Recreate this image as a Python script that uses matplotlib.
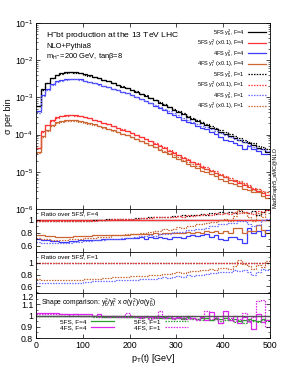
# H-bt pT(t) distribution: spectra plus ratio and shape panels
import numpy as np
import matplotlib
matplotlib.use('Agg')
import matplotlib.pyplot as plt
from matplotlib.ticker import MultipleLocator, LogLocator, NullFormatter

plt.rcParams['font.family'] = ['Liberation Sans', 'DejaVu Sans']
plt.rcParams['mathtext.fontset'] = 'custom'
plt.rcParams['mathtext.rm'] = 'Liberation Sans'
plt.rcParams['mathtext.it'] = 'Liberation Sans:italic'
plt.rcParams['mathtext.default'] = 'regular'

# bins: 10 GeV from 0 to 500
pt_edges = np.arange(0, 510, 10)

# 5FS y_b^2, F=4 (sigma per bin)
sig_5fs_yb_F4 = [6.0e-4, 1.66e-3, 2.51e-3, 3.39e-3, 4.07e-3, 4.47e-3, 4.68e-3, 4.79e-3, 4.68e-3, 4.47e-3,
                 4.17e-3, 3.89e-3, 3.55e-3, 3.24e-3, 2.95e-3, 2.69e-3, 2.40e-3, 2.19e-3, 1.95e-3, 1.78e-3,
                 1.58e-3, 1.41e-3, 1.23e-3, 1.10e-3, 9.5e-4, 8.3e-4, 7.2e-4, 6.2e-4, 5.4e-4, 4.6e-4,
                 4.0e-4, 3.5e-4, 3.0e-4, 2.6e-4, 2.3e-4, 2.0e-4, 1.78e-4, 1.55e-4, 1.38e-4, 1.20e-4,
                 1.05e-4, 9.2e-5, 8.1e-5, 7.3e-5, 6.5e-5, 5.8e-5, 5.1e-5, 4.5e-5, 4.0e-5, 3.5e-5]

# 5FS y_t^2 (x0.1), F=4
sig_5fs_yt_F4 = [4.4e-5, 1.22e-4, 1.80e-4, 2.42e-4, 2.90e-4, 3.18e-4, 3.32e-4, 3.38e-4, 3.30e-4, 3.15e-4,
                 2.94e-4, 2.74e-4, 2.50e-4, 2.28e-4, 2.07e-4, 1.89e-4, 1.68e-4, 1.53e-4, 1.36e-4, 1.24e-4,
                 1.10e-4, 9.8e-5, 8.6e-5, 7.6e-5, 6.6e-5, 5.7e-5, 5.0e-5, 4.3e-5, 3.7e-5, 3.2e-5,
                 2.75e-5, 2.4e-5, 2.06e-5, 1.78e-5, 1.58e-5, 1.37e-5, 1.22e-5, 1.06e-5, 9.4e-6, 8.2e-6,
                 7.1e-6, 6.2e-6, 5.5e-6, 4.9e-6, 4.35e-6, 3.9e-6, 3.4e-6, 3.05e-6, 2.7e-6, 2.4e-6]

# F=1 / F=4 for the 5FS curves
r_5fs_yb_F1 = [0.99, 0.98, 0.98, 0.98, 0.98, 0.98, 0.98, 0.98, 0.99, 0.99,
               0.99, 0.99, 1.00, 1.00, 1.00, 1.01, 1.01, 1.01, 1.02, 1.02,
               1.02, 1.03, 1.03, 1.03, 1.04, 1.04, 1.05, 1.05, 1.05, 1.06,
               1.06, 1.07, 1.06, 1.08, 1.07, 1.09, 1.08, 1.10, 1.09, 1.12,
               1.10, 1.13, 1.10, 1.14, 1.12, 1.11, 1.14, 1.08, 1.13, 1.15]
r_5fs_yt_F1 = [0.99, 0.99, 0.98, 0.98, 0.98, 0.98, 0.98, 0.98, 0.98, 0.99,
               0.99, 0.99, 0.99, 1.00, 1.00, 1.00, 1.01, 1.01, 1.01, 1.02,
               1.02, 1.02, 1.03, 1.03, 1.03, 1.04, 1.04, 1.05, 1.04, 1.05,
               1.06, 1.05, 1.07, 1.06, 1.08, 1.07, 1.09, 1.08, 1.10, 1.09,
               1.11, 1.09, 1.12, 1.10, 1.13, 1.11, 1.09, 1.14, 1.12, 1.16]

# 4FS / 5FS at F=4
r_4fs_yb_F4 = [0.70, 0.69, 0.68, 0.67, 0.67, 0.66, 0.66, 0.67, 0.67, 0.68,
               0.68, 0.68, 0.69, 0.69, 0.70, 0.70, 0.70, 0.71, 0.71, 0.72,
               0.72, 0.72, 0.73, 0.71, 0.73, 0.72, 0.74, 0.72, 0.71, 0.73,
               0.74, 0.72, 0.75, 0.77, 0.75, 0.76, 0.78, 0.74, 0.77, 0.70,
               0.69, 0.74, 0.73, 0.71, 0.64, 0.87, 0.80, 0.82, 0.75, 0.85]
r_4fs_yt_F4 = [0.77, 0.76, 0.75, 0.75, 0.74, 0.74, 0.74, 0.74, 0.75, 0.75,
               0.75, 0.75, 0.76, 0.76, 0.76, 0.76, 0.77, 0.77, 0.77, 0.77,
               0.78, 0.78, 0.78, 0.78, 0.78, 0.79, 0.78, 0.79, 0.79, 0.80,
               0.79, 0.80, 0.81, 0.80, 0.81, 0.79, 0.82, 0.81, 0.83, 0.80,
               0.82, 0.79, 0.88, 0.87, 0.80, 0.82, 0.82, 0.92, 0.84, 0.80]

# 4FS / 5FS at F=1
r_4fs_yb_F1 = [0.66, 0.66, 0.66, 0.65, 0.65, 0.65, 0.65, 0.66, 0.66, 0.66,
               0.67, 0.67, 0.68, 0.68, 0.69, 0.69, 0.69, 0.70, 0.70, 0.71,
               0.71, 0.71, 0.72, 0.72, 0.73, 0.72, 0.74, 0.75, 0.74, 0.76,
               0.77, 0.76, 0.79, 0.78, 0.80, 0.79, 0.81, 0.82, 0.83, 0.84,
               0.85, 0.84, 0.87, 0.86, 0.88, 0.84, 0.80, 0.85, 0.89, 0.88]
r_4fs_yt_F1 = [0.72, 0.71, 0.71, 0.70, 0.70, 0.70, 0.70, 0.71, 0.71, 0.71,
               0.72, 0.72, 0.73, 0.73, 0.74, 0.74, 0.75, 0.75, 0.76, 0.76,
               0.77, 0.77, 0.78, 0.78, 0.79, 0.79, 0.80, 0.81, 0.81, 0.82,
               0.84, 0.83, 0.85, 0.86, 0.86, 0.88, 0.87, 0.90, 0.88, 0.91,
               0.92, 0.90, 0.95, 1.05, 0.98, 0.94, 0.90, 0.97, 0.93, 1.04]

# shape comparison y_b^2/y_t^2 x sigma(y_t^2)/sigma(y_b^2)
shape_5fs_F4 = [1.00, 1.00, 1.00, 1.00, 1.00, 1.00, 1.00, 1.00, 1.00, 1.00,
                1.00, 1.00, 1.00, 1.00, 0.99, 0.99, 0.99, 0.99, 0.99, 0.99,
                0.99, 0.99, 0.99, 0.99, 0.99, 0.99, 0.98, 0.99, 0.98, 0.98,
                0.98, 0.98, 0.99, 0.98, 0.97, 0.98, 0.98, 0.96, 0.98, 0.97,
                0.98, 0.96, 0.97, 0.95, 0.96, 0.97, 0.96, 0.95, 0.97, 0.96]
shape_4fs_F4 = [1.02, 1.02, 1.02, 1.02, 1.02, 1.01, 1.01, 1.01, 1.01, 1.01,
                1.01, 1.01, 1.00, 1.01, 1.00, 1.00, 1.00, 1.00, 1.00, 0.99,
                1.00, 0.99, 0.99, 1.00, 0.99, 0.98, 0.99, 0.98, 1.00, 0.98,
                0.99, 0.97, 1.00, 0.98, 0.97, 0.99, 0.96, 1.03, 0.97, 0.93,
                1.04, 0.96, 1.00, 0.93, 0.99, 0.95, 0.88, 1.01, 0.94, 0.96]
shape_5fs_F1 = [1.00, 1.00, 1.00, 1.00, 1.00, 1.00, 1.00, 1.00, 1.00, 1.00,
                1.00, 1.00, 0.99, 0.99, 0.99, 0.99, 0.99, 0.99, 0.99, 0.99,
                0.99, 0.99, 0.98, 0.99, 0.98, 0.98, 0.98, 0.98, 0.98, 0.97,
                0.98, 0.97, 0.98, 0.97, 0.97, 0.96, 0.98, 0.96, 0.97, 0.95,
                0.96, 0.97, 0.94, 0.96, 0.93, 0.96, 0.95, 0.94, 0.96, 0.95]
shape_4fs_F1 = [1.01, 1.01, 1.01, 1.01, 1.01, 1.01, 1.01, 1.00, 1.01, 1.00,
                1.00, 1.00, 1.00, 0.99, 1.00, 0.99, 1.00, 0.99, 0.99, 1.02,
                1.00, 0.99, 0.98, 0.99, 0.97, 0.99, 1.04, 0.98, 0.99, 0.97,
                0.98, 0.99, 0.97, 1.00, 0.96, 0.99, 1.04, 0.97, 0.99, 0.93,
                1.00, 0.98, 0.95, 0.97, 1.02, 0.94, 0.99, 1.13, 1.14, 0.90]

# build the remaining spectra from the reference ones and the ratios
yb5_F4 = np.array(sig_5fs_yb_F4)
yt5_F4 = np.array(sig_5fs_yt_F4)
yb5_F1 = yb5_F4 * np.array(r_5fs_yb_F1)
yt5_F1 = yt5_F4 * np.array(r_5fs_yt_F1)
yb4_F4 = yb5_F4 * np.array(r_4fs_yb_F4)
yt4_F4 = yt5_F4 * np.array(r_4fs_yt_F4)
yb4_F1 = yb5_F1 * np.array(r_4fs_yb_F1)
yt4_F1 = yt5_F1 * np.array(r_4fs_yt_F1)

c_blk = 'black'
c_red = '#ff3535'
c_blu = '#3a3aff'
c_blu2 = '#6a6aff'
c_org = '#cc6633'
c_grn = '#2ca02c'
c_mag = '#dd22ee'
dot = (0, (1.2, 1.0))

fig = plt.figure(figsize=(2.83, 3.67), dpi=100)
L, W = 0.127, 0.827
ax0 = fig.add_axes([L, 0.4305, W, 0.5068])
ax1 = fig.add_axes([L, 0.3134, W, 0.1172])
ax2 = fig.add_axes([L, 0.2016, W, 0.1117])
ax3 = fig.add_axes([L, 0.0790, W, 0.1226])

fs_tick = 6.3
fs_lab = 6.5

# main panel
curves = [
    (yb5_F4, c_blk, '-', r'5FS y$_b^2$, F=4'),
    (yt5_F4, c_red, '-', r'5FS y$_t^2$ (x0.1), F=4'),
    (yb4_F4, c_blu, '-', r'4FS y$_b^2$, F=4'),
    (yt4_F4, c_org, '-', r'4FS y$_t^2$ (x0.1), F=4'),
    (yb5_F1, c_blk, dot, r'5FS y$_b^2$, F=1'),
    (yt5_F1, c_red, dot, r'5FS y$_t^2$ (x0.1), F=1'),
    (yb4_F1, c_blu2, dot, r'4FS y$_b^2$, F=1'),
    (yt4_F1, c_org, dot, r'4FS y$_t^2$ (x0.1), F=1'),
]
for vals, col, ls, lab in curves:
    ax0.stairs(vals, pt_edges, color=col, linestyle=ls, lw=0.9, label=lab, baseline=None)
ax0.set_yscale('log')
ax0.set_ylim(1e-6, 1e-1)
ax0.set_ylabel('σ per bin', fontsize=fs_lab, labelpad=1)
ax0.yaxis.set_major_locator(LogLocator(base=10, numticks=10))
ax0.yaxis.set_minor_locator(LogLocator(base=10, subs=np.arange(2, 10), numticks=20))
ax0.yaxis.set_minor_formatter(NullFormatter())
ax0.legend(loc='upper right', bbox_to_anchor=(1.0, 1.0), frameon=False, fontsize=4.1,
           markerfirst=False, handlelength=3.1, labelspacing=-0.05, handletextpad=0.6,
           borderaxespad=0.3)
ax0.text(0.045, 0.965, r'H$^{-}$bt production at the 13 TeV LHC', transform=ax0.transAxes,
         fontsize=6.1, va='top')
ax0.text(0.045, 0.895, 'NLO+Pythia8', transform=ax0.transAxes, fontsize=5.4, va='top')
ax0.text(0.045, 0.85, r'm$_{H^-}$=200 GeV, tanβ=8', transform=ax0.transAxes, fontsize=5.4, va='top')
fig.text(0.972, 0.515, 'MadGraph5_aMC@NLO', rotation=90, fontsize=4.0, ha='center', va='center')

# ratio over 5FS F=4
ratios1 = [
    (np.ones(50), c_blk, '-'),
    (np.ones(50), c_red, '-'),
    (r_4fs_yb_F4, c_blu, '-'),
    (r_4fs_yt_F4, c_org, '-'),
    (r_5fs_yb_F1, c_blk, dot),
    (r_5fs_yt_F1, c_red, dot),
    (yb4_F1 / yb5_F4, c_blu2, dot),
    (yt4_F1 / yt5_F4, c_org, dot),
]
for vals, col, ls in ratios1:
    ax1.stairs(vals, pt_edges, color=col, linestyle=ls, lw=0.9, baseline=None)
ax1.set_ylim(0.5, 1.17)
ax1.set_yticks([0.6, 0.8, 1.0])
ax1.set_yticklabels(['0.6', '0.8', '1'])
ax1.text(0.02, 0.95, 'Ratio over 5FS, F=4', transform=ax1.transAxes, fontsize=4.6, va='top')

# ratio over 5FS F=1
ratios2 = [
    (np.ones(50), c_blk, dot),
    (np.ones(50), c_red, dot),
    (r_4fs_yb_F1, c_blu2, dot),
    (r_4fs_yt_F1, c_org, dot),
]
for vals, col, ls in ratios2:
    ax2.stairs(vals, pt_edges, color=col, linestyle=ls, lw=0.9, baseline=None)
ax2.set_ylim(0.48, 1.19)
ax2.set_yticks([0.6, 0.8, 1.0])
ax2.set_yticklabels(['0.6', '0.8', '1'])
ax2.text(0.02, 0.95, 'Ratio over 5FS, F=1', transform=ax2.transAxes, fontsize=4.6, va='top')

# shape comparison
ax3.axhline(1.0, color='#555555', lw=1.0)
shapes = [
    (shape_5fs_F4, c_grn, '-', '5FS, F=4'),
    (shape_4fs_F4, c_mag, '-', '4FS, F=4'),
    (shape_5fs_F1, c_grn, dot, '5FS, F=1'),
    (shape_4fs_F1, c_mag, dot, '4FS, F=1'),
]
for vals, col, ls, lab in shapes:
    ax3.stairs(vals, pt_edges, color=col, linestyle=ls, lw=0.9, label=lab, baseline=None)
ax3.set_ylim(0.8, 1.2)
ax3.set_yticks([0.8, 0.9, 1.0, 1.1, 1.2])
ax3.set_yticklabels(['0.8', '0.9', '1', '1.1', '1.2'])
ax3.text(0.02, 0.92, r'Shape comparison: y$_b^2$/y$_t^2$ x σ(y$_t^2$)/σ(y$_b^2$)',
         transform=ax3.transAxes, fontsize=4.9, va='top')
ax3.legend(loc='lower left', bbox_to_anchor=(0.08, 0.04), ncol=2, frameon=False, fontsize=4.6,
           markerfirst=False, handlelength=3.6, labelspacing=0.1, handletextpad=0.6,
           columnspacing=3.2)
ax3.set_xlabel(r'p$_T$(t) [GeV]', fontsize=fs_lab, labelpad=1.5)

for ax in (ax0, ax1, ax2, ax3):
    ax.set_xlim(0, 500)
    ax.xaxis.set_major_locator(MultipleLocator(100))
    ax.tick_params(which='both', direction='in', top=True, right=True, labelsize=fs_tick, pad=2)
    ax.tick_params(which='major', length=3, width=0.5)
    ax.tick_params(which='minor', length=1.5, width=0.4)
    for sp in ax.spines.values():
        sp.set_linewidth(0.6)
    if ax is not ax3:
        ax.tick_params(labelbottom=False)
for ax in (ax1, ax2):
    ax.yaxis.set_minor_locator(MultipleLocator(0.1))
ax3.yaxis.set_minor_locator(MultipleLocator(0.05))

# keep the "1.2" of the shape panel clear of the "0.6" above it
ax3.get_yticklabels()[-1].set_verticalalignment('top')

fig.savefig('out.png', dpi=100)
